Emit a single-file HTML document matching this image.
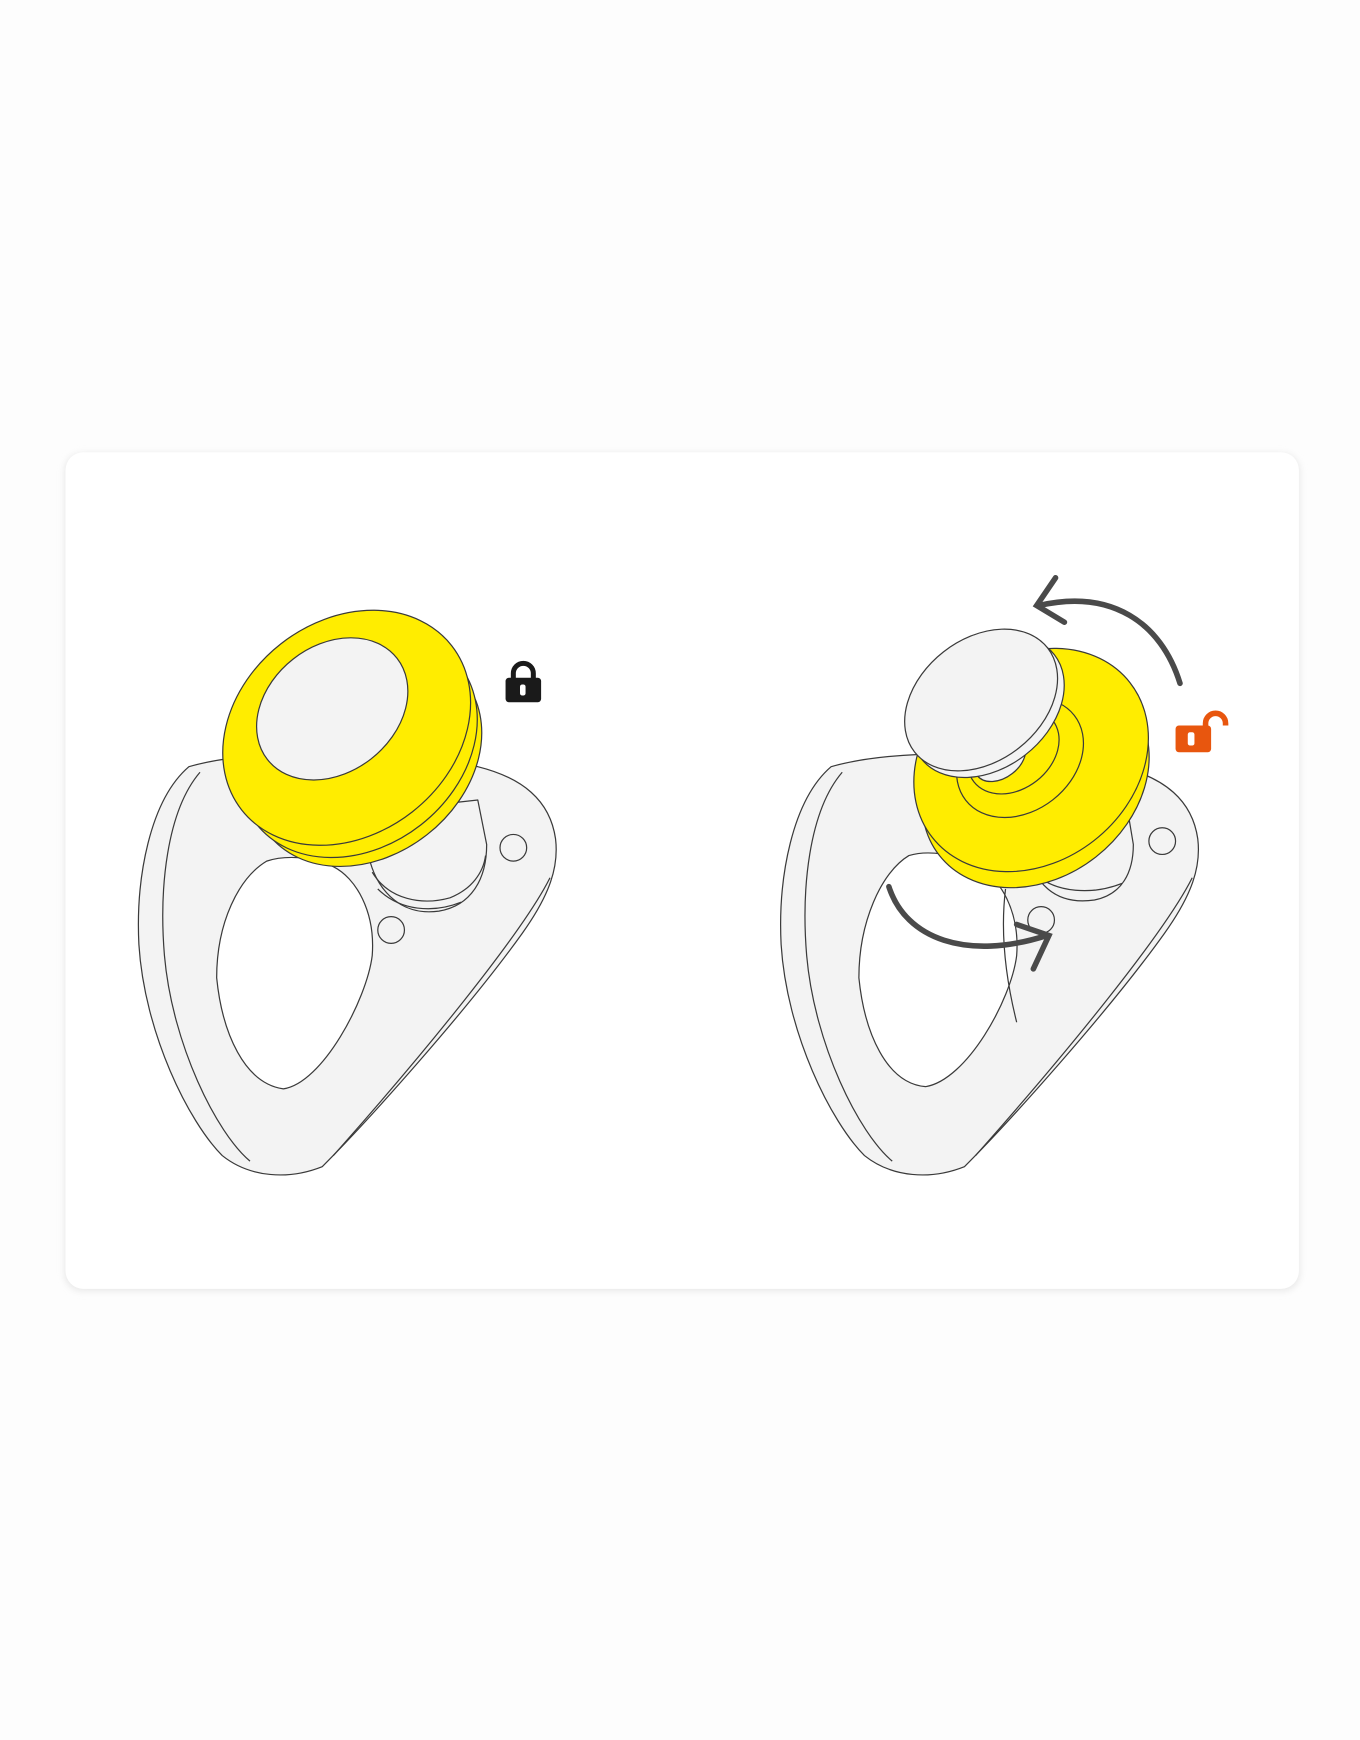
<!DOCTYPE html>
<html><head><meta charset="utf-8"><style>
html,body{margin:0;padding:0;background:#fdfdfd;}
svg{display:block;}
</style></head><body>
<svg width="1360" height="1740" viewBox="0 0 1224 1566" xmlns="http://www.w3.org/2000/svg">
<defs>
<filter id="sh" x="-5%" y="-5%" width="110%" height="110%"><feGaussianBlur stdDeviation="3"/></filter>
</defs>
<rect x="0" y="0" width="1224" height="1566" fill="#fdfdfd"/>
<rect x="58" y="408" width="1112" height="754" rx="16" fill="#e8e8e8" filter="url(#sh)"/>
<rect x="59" y="407" width="1110" height="753" rx="16" fill="#ffffff"/>

<g stroke="#3a3a3a" stroke-width="1.1" fill="#f3f3f3" stroke-linejoin="round">
<!-- LEFT plate -->
<path d="M170,690 C135,720 122,790 125,850 C130,930 170,1010 200,1040 C225,1060 260,1062 290,1050 C330,1010 420,910 470,840 C495,805 503,780 500,755 C495,720 470,700 430,690 C360,680 240,670 170,690 Z"/>
<path d="M180,695 C150,730 143,800 148,860 C155,940 195,1020 225,1045" fill="none"/>
<path d="M495,790 C470,840 380,950 300,1040" fill="none"/>
<path d="M240,775 C215,790 195,830 195,880 C200,930 220,975 255,980 C290,975 330,900 335,860 C338,820 320,790 300,780 C280,770 255,770 240,775 Z" fill="#ffffff"/>
<circle cx="462" cy="763" r="12"/>
<circle cx="352" cy="837" r="12"/>
<path d="M330,760 C335,800 360,825 395,820 C425,815 438,790 438,760 L430,720 L340,730 Z"/>
<path d="M335,785 C350,810 380,815 405,808 C425,800 435,785 437,770" fill="none"/>
<path d="M340,800 C360,820 390,822 415,812" fill="none"/>
<!-- LEFT knob -->
<ellipse cx="330" cy="682" rx="112" ry="88" transform="rotate(-38 330 682)" fill="#ffed00"/>
<ellipse cx="322" cy="670" rx="116" ry="92" transform="rotate(-38 322 670)" fill="#ffed00"/>
<ellipse cx="312" cy="655" rx="120" ry="96" transform="rotate(-38 312 655)" fill="#ffed00"/>
<ellipse cx="299" cy="638" rx="74" ry="57" transform="rotate(-38 299 638)" fill="#f3f3f3"/>

<!-- RIGHT plate -->
<path d="M748,690 C713,720 700,790 703,850 C708,930 748,1010 778,1040 C803,1060 838,1062 868,1050 C908,1010 998,910 1048,840 C1073,805 1081,780 1078,755 C1073,720 1048,700 1008,690 C938,680 818,670 748,690 Z"/>
<path d="M758,695 C728,730 721,800 726,860 C733,940 773,1020 803,1045" fill="none"/>
<path d="M1073,790 C1048,840 958,950 878,1040" fill="none"/>
<path d="M818,770 C793,785 773,830 773,880 C778,930 798,975 833,978 C870,972 910,900 915,860 C918,820 900,790 880,780 C860,768 835,765 818,770 Z" fill="#ffffff"/>
<path d="M905,800 C900,840 905,880 915,920" fill="none"/>
<circle cx="1046" cy="757" r="12"/>
<circle cx="937" cy="828" r="12"/>
<path d="M925,760 C928,795 950,815 985,810 C1010,805 1020,785 1020,760 L1015,730 L935,735 Z"/>
<path d="M930,785 C950,805 985,805 1010,795" fill="none"/>
<!-- RIGHT knob -->
<ellipse cx="932" cy="702" rx="110" ry="88" transform="rotate(-38 932 702)" fill="#ffed00"/>
<ellipse cx="928" cy="684" rx="113" ry="92" transform="rotate(-38 928 684)" fill="#ffed00"/>
<ellipse cx="918" cy="682" rx="62" ry="48" transform="rotate(-38 918 682)" fill="#ffed00"/>
<ellipse cx="912" cy="676" rx="45" ry="34" transform="rotate(-38 912 676)" fill="#ffed00"/>
<ellipse cx="900" cy="682" rx="26" ry="18" transform="rotate(-38 900 682)" fill="#f3f3f3"/>
<ellipse cx="889" cy="636" rx="76" ry="55" transform="rotate(-38 889 636)" fill="#f3f3f3"/>
<ellipse cx="883" cy="630" rx="76" ry="55" transform="rotate(-38 883 630)" fill="#f3f3f3"/>
</g>

<!-- Arrows -->
<g fill="none" stroke="#4a4a4a" stroke-width="5" stroke-linecap="round">
<path d="M1062,615 C1045,560 1000,530 935,545"/>
<path d="M950,520 L933,545 L958,560"/>
<path d="M800,798 C815,845 870,865 942,842"/>
<path d="M930,872 L944,842 L915,832"/>
</g>

<!-- black lock -->
<g fill="#1a1a1a">
<path d="M462,612 v-6 a9,9 0 0 1 18,0 v6" fill="none" stroke="#1a1a1a" stroke-width="4.5"/>
<rect x="455" y="610" width="32" height="22" rx="3"/>
<rect x="468" y="616" width="5" height="10" rx="2" fill="#fff"/>
</g>
<!-- orange unlock -->
<g fill="#e8560e">
<rect x="1058" y="653" width="32" height="24" rx="3"/>
<rect x="1069" y="659" width="6" height="12" rx="2" fill="#fff"/>
<path d="M1085,655 v-4 a9,9 0 0 1 18,0 v2" fill="none" stroke="#e8560e" stroke-width="5"/>
</g>
</svg>
</body></html>
